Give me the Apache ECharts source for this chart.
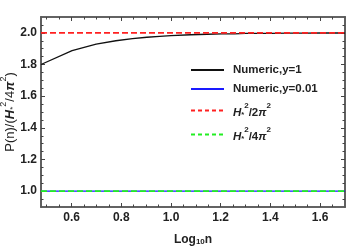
<!DOCTYPE html>
<html><head><meta charset="utf-8">
<script src="https://cdn.jsdelivr.net/npm/echarts@6/dist/echarts.min.js"></script>
<style>html,body{margin:0;padding:0;background:#fff}#c{width:349px;height:247px}</style>
</head><body><div id="c"></div>
<script>
// log10(n) for n = 3..50
var logN = [0.4771, 0.6021, 0.6990, 0.7782, 0.8451, 0.9031, 0.9542, 1.0000, 1.0792, 1.1461, 1.2041, 1.2553, 1.3010, 1.3979, 1.4771, 1.5441, 1.6021, 1.6532, 1.6990];
var numericY1 = [1.800, 1.888, 1.928, 1.950, 1.963, 1.972, 1.978, 1.982, 1.988, 1.991, 1.993, 1.994, 1.996, 1.997, 1.998, 1.9985, 1.999, 1.999, 1.999];
var numericY001 = [1.0, 1.0, 1.0, 1.0, 1.0, 1.0, 1.0, 1.0, 1.0, 1.0, 1.0, 1.0, 1.0, 1.0, 1.0, 1.0, 1.0, 1.0, 1.0];
var constX = [0.4771, 1.7];
var level2pi = [2.0, 2.0];
var level4pi = [1.0, 1.0];
var xMajorTicks = [0.6, 0.8, 1.0, 1.2, 1.4, 1.6];
var xMinorTicks = [0.5, 0.55, 0.65, 0.7, 0.75, 0.85, 0.9, 0.95, 1.05, 1.1, 1.15, 1.25, 1.3, 1.35, 1.45, 1.5, 1.55, 1.65];
var yMajorTicks = [1.0, 1.2, 1.4, 1.6, 1.8, 2.0];
var yMinorTicks = [0.95, 1.05, 1.1, 1.15, 1.25, 1.3, 1.35, 1.45, 1.5, 1.55, 1.65, 1.7, 1.75, 1.85, 1.9, 1.95, 2.05];
var seriesNames = ['Numeric,y=1', 'Numeric,y=0.01', 'H2', 'H4'];

var FONT = 'Liberation Sans, Arial, sans-serif';
var frame = {show: true, lineStyle: {color: '#5a5a5a', width: 1.6}};
var X0 = 0.4771, X1 = 1.7, Y0 = 0.9, Y1 = 2.1;
function pairs(xs, ys) { return xs.map(function (x, i) { return [x, ys[i]]; }); }

function xAx(pos, major, labels) {
  return {
    type: 'value', position: pos, min: X0, max: X1, gridIndex: 0,
    axisLine: frame, splitLine: {show: false},
    axisTick: {show: true, inside: true, length: major ? 4 : 2.5, customValues: major ? xMajorTicks : xMinorTicks,
      lineStyle: {color: '#444', width: 1}},
    axisLabel: labels ? {show: true, customValues: xMajorTicks, fontFamily: FONT, fontWeight: 'bold', fontSize: 12, color: '#222', margin: 5,
      formatter: function (v) { return v.toFixed(1); }} : {show: false}
  };
}
function yAx(pos, major, labels) {
  return {
    type: 'value', position: pos, min: Y0, max: Y1, gridIndex: 0,
    axisLine: frame, splitLine: {show: false},
    axisTick: {show: true, inside: true, length: major ? 4 : 2.5, customValues: major ? yMajorTicks : yMinorTicks,
      lineStyle: {color: '#444', width: 1}},
    axisLabel: labels ? {show: true, customValues: yMajorTicks, fontFamily: FONT, fontWeight: 'bold', fontSize: 12, color: '#222', margin: 4,
      formatter: function (v) { return v.toFixed(1); }} : {show: false}
  };
}

var xAxes = [xAx('bottom', true, true), xAx('bottom', false, false), xAx('top', true, false), xAx('top', false, false)];
xAxes[0].name = '{b|Log}{s|10}{b|n}';
xAxes[0].nameLocation = 'middle';
xAxes[0].nameGap = 24;
xAxes[0].nameTextStyle = {rich: {
  b: {fontFamily: FONT, fontWeight: 'bold', fontSize: 12, color: '#222', lineHeight: 15, verticalAlign: 'bottom'},
  s: {fontFamily: FONT, fontWeight: 'bold', fontSize: 8, color: '#222', lineHeight: 11, verticalAlign: 'bottom'}
}};
var yAxes = [yAx('left', true, true), yAx('left', false, false), yAx('right', true, false), yAx('right', false, false)];
yAxes[0].name = '{n|P(n)/(}{i|H}{s|*}{p|2}{n|/4}{i|π}{p|2}{n|)}';
yAxes[0].nameLocation = 'middle';
yAxes[0].nameRotate = 90;
yAxes[0].nameGap = 24;
yAxes[0].nameMoveOverlap = false;
yAxes[0].nameTextStyle = {rich: {
  n: {fontFamily: FONT, fontSize: 13, color: '#222', lineHeight: 16, verticalAlign: 'bottom'},
  i: {fontFamily: FONT, fontSize: 13, fontStyle: 'italic', fontWeight: 'bold', color: '#222', lineHeight: 16, verticalAlign: 'bottom'},
  s: {fontFamily: FONT, fontSize: 8, color: '#222', lineHeight: 12, verticalAlign: 'bottom'},
  p: {fontFamily: FONT, fontSize: 9, color: '#222', lineHeight: 18, verticalAlign: 'top'}
}};

var legRich = {
  g: {width: 4},
  b: {fontFamily: FONT, fontWeight: 'bold', fontSize: 11.5, color: '#222', lineHeight: 15},
  i: {fontFamily: FONT, fontWeight: 'bold', fontStyle: 'italic', fontSize: 11.5, color: '#222', lineHeight: 15, verticalAlign: 'bottom'},
  n: {fontFamily: FONT, fontWeight: 'bold', fontSize: 11.5, color: '#222', lineHeight: 15, verticalAlign: 'bottom'},
  s: {fontFamily: FONT, fontWeight: 'bold', fontSize: 7.5, color: '#222', lineHeight: 11, verticalAlign: 'bottom'},
  p: {fontFamily: FONT, fontWeight: 'bold', fontSize: 8, color: '#222', lineHeight: 17, verticalAlign: 'top'}
};
var legLabels = {
  'Numeric,y=1': '{g|}{b|Numeric,y=1}',
  'Numeric,y=0.01': '{g|}{b|Numeric,y=0.01}',
  'H2': '{g|}{i|H}{s|*}{p|2}{n|/2}{i|π}{p|2}',
  'H4': '{g|}{i|H}{s|*}{p|2}{n|/4}{i|π}{p|2}'
};

var chart = echarts.init(document.getElementById('c'), null, {renderer: 'canvas'});
chart.setOption({
  animation: false,
  backgroundColor: '#fff',
  grid: {left: 41, right: 4, top: 17, bottom: 40, containLabel: false, outerBoundsMode: 'none'},
  xAxis: xAxes,
  yAxis: yAxes,
  legend: {
    show: true,
    orient: 'vertical', left: 190, top: 64, itemGap: 7, itemWidth: 33, itemHeight: 10,
    padding: 0,
    itemStyle: {color: 'rgba(0,0,0,0)', borderWidth: 0, opacity: 0},
    data: [
      {name: seriesNames[0]},
      {name: seriesNames[1]},
      {name: seriesNames[2], lineStyle: {type: [4, 3]}},
      {name: seriesNames[3], lineStyle: {type: [4, 3]}}
    ],
    formatter: function (n) { return legLabels[n]; },
    textStyle: {rich: legRich}
  },
  series: [
    {name: seriesNames[1], type: 'line', xAxisIndex: 0, yAxisIndex: 0, data: pairs(logN, numericY001), symbol: 'none',
      lineStyle: {color: '#1a1aff', width: 1.3}, itemStyle: {color: '#1a1aff'}, z: 2},
    {name: seriesNames[3], type: 'line', data: pairs(constX, level4pi), symbol: 'none',
      lineStyle: {color: '#22ee22', width: 1.8, type: [6, 3]}, itemStyle: {color: '#22ee22'}, z: 3},
    {name: seriesNames[0], type: 'line', data: pairs(logN, numericY1), symbol: 'none',
      lineStyle: {color: '#111', width: 1.3}, itemStyle: {color: '#111'}, z: 4},
    {name: seriesNames[2], type: 'line', data: pairs(constX, level2pi), symbol: 'none',
      lineStyle: {color: '#ff2020', width: 1.6, type: [6, 3]}, itemStyle: {color: '#ff2020'}, z: 5}
  ]
});
</script></body></html>
